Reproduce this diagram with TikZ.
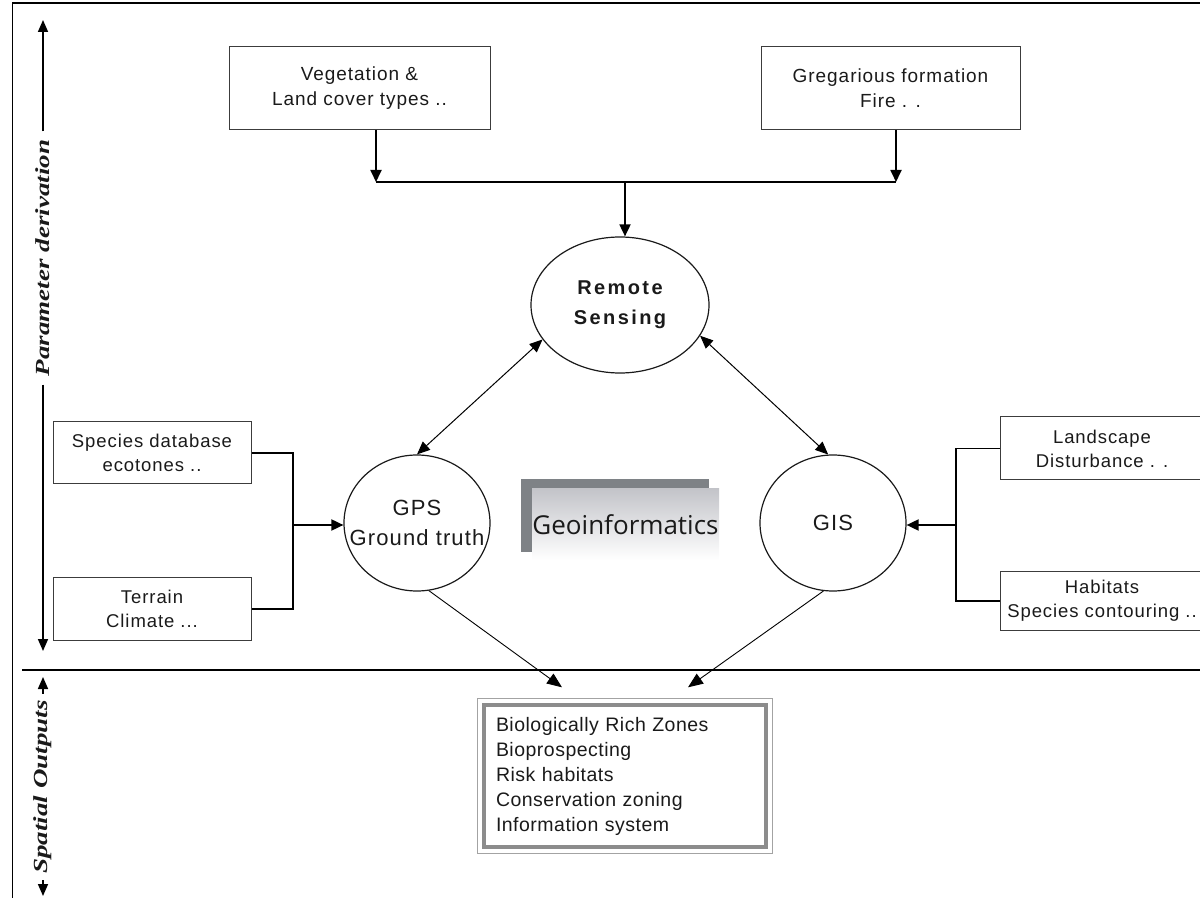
\documentclass[tikz,border=0pt]{standalone}
\usepackage{fontspec}
\setmainfont{Liberation Sans}[LetterSpace=5]
\newfontfamily\axisfont{Liberation Serif}[FakeStretch=1.35]
\newfontfamily\geofont{Open Sans}
\usetikzlibrary{arrows.meta,shapes.geometric,calc}
\definecolor{ink}{HTML}{1A1A1A}
\definecolor{framegray}{HTML}{8C8C8C}
\definecolor{shadegray}{HTML}{C3C4C9}
\definecolor{darkshade}{HTML}{7E8286}
\begin{document}
\begin{tikzpicture}[x=0.5pt,y=-0.5pt,
  box/.style={draw=ink!85,line width=0.5pt,align=center,text=ink,font=\fontsize{9.5}{12.5}\selectfont},
  blob/.style={ellipse,draw=ink,line width=0.6pt,align=center,inner sep=0pt,text=ink},
  link/.style={line width=0.9pt,-{Triangle[length=6pt,width=5.5pt]}},
  both/.style={line width=0.5pt,{Triangle[length=6.5pt,width=5.5pt]}-{Triangle[length=6.5pt,width=5.5pt]}},
  feed/.style={line width=0.45pt,-{Triangle[length=7.5pt,width=6pt]}},
  axis/.style={line width=0.8pt,-{Triangle[length=6pt,width=5pt]}},
  axlabel/.style={rotate=90,inner sep=4pt,text=ink,font=\axisfont\fontsize{10}{12}\selectfont\bfseries\itshape}]
\useasboundingbox (0,0) rectangle (1200,898);
\draw[line width=0.7pt] (12.5,898) -- (12.5,3) -- (1200,3);
\draw[line width=1pt] (22,670) -- (1200,670);

% left axis
\node[axlabel] (pd) at (43,258) {Parameter derivation};
\coordinate (pdtop) at (43,20);
\coordinate (pdbot) at (43,651);
\draw[axis] (pd.east) -- (pdtop);
\draw[axis] (pd.west) -- (pdbot);
\node[axlabel,inner sep=3pt] (so) at (43,787) {Spatial Outputs};
\coordinate (sotop) at (43,677);
\coordinate (sobot) at (43,896);
\draw[axis] (so.east) -- (sotop);
\draw[axis] (so.west) -- (sobot);

% inputs
\node[box,minimum width=130.5pt,minimum height=41.5pt] (veg) at (359.5,88.5) {Vegetation \&\\Land cover types ..};
\node[box,minimum width=129.5pt,minimum height=41.5pt] (greg) at (890.5,88.5) {Gregarious formation\\Fire . .};
\node[box,minimum width=99pt,minimum height=31pt,font=\fontsize{9.25}{12}\selectfont] (spec) at (152,453) {Species database\\ecotones ..};
\node[box,minimum width=99pt,minimum height=31pt,font=\fontsize{9.25}{12}\selectfont] (terr) at (152,609) {Terrain\\Climate ...};
\node[box,minimum width=102pt,minimum height=31.5pt,font=\fontsize{9.25}{12}\selectfont] (land) at (1102,448.5) {Landscape\\Disturbance . .};
\node[box,minimum width=102pt,minimum height=29pt,font=\fontsize{9.25}{12}\selectfont] (hab) at (1102,601) {Habitats\\Species contouring ..};

% core
\node[blob,minimum width=89pt,minimum height=68pt,font=\fontsize{10}{15}\selectfont\bfseries\addfontfeature{LetterSpace=12}] (rs) at (620,305) {Remote\\Sensing};
\node[blob,minimum width=73pt,minimum height=68pt] (gps) at (417,523) {};
\node[align=center,text=ink,font=\fontsize{11}{15}\selectfont] (gpstxt) at (gps) {GPS\\Ground truth};
\node[blob,minimum width=73pt,minimum height=68pt,font=\fontsize{11}{15}\selectfont] (gis) at (833,523) {GIS};
\fill[darkshade] (521,479) rectangle (709,552);
\node[minimum width=93.5pt,minimum height=35.5pt,inner sep=0pt,top color=shadegray,bottom color=white,text=ink,font=\geofont\fontsize{13}{15}\selectfont] (geo) at (625.5,524.5) {Geoinformatics};

% output
\node[draw=framegray,line width=1.6pt,text width=129pt,inner sep=6pt,minimum height=68pt,align=left,text=ink,font=\fontsize{9.75}{12.5}\selectfont\addfontfeature{LetterSpace=2.5}] (outbox) at (625,776) {Biologically Rich Zones\\Bioprospecting\\Risk habitats\\Conservation zoning\\Information system};
\draw[framegray!80,line width=0.6pt] ([shift={(-5,-5)}]outbox.north west) rectangle ([shift={(5,5)}]outbox.south east);

% connectors
\coordinate (jl) at (376,182);
\coordinate (jr) at (896,182);
\coordinate (jc) at (625,182);
\draw[link] (veg.south -| jl) -- (jl);
\draw[link] (greg.south -| jr) -- (jr);
\draw[line width=0.9pt] (jl) -- (jr);
\draw[link] (jc) -- (rs.north -| jc);
\draw[both] (rs.204) -- (gps.north);
\draw[both] (rs.-21) -- (gis.94);
\coordinate (bl) at (293,525);
\coordinate (br) at (956,525);
\draw[line width=0.9pt] (spec.east) -| (bl) |- (terr.east);
\draw[link] (bl) -- (gps.west |- bl);
\draw[line width=0.9pt] (land.west) -| (br) |- (hab.west);
\draw[link] (br) -- (gis.east |- br);
\draw[feed] (gps.-80) -- ($(outbox.north)+(-63,-16)$);
\draw[feed] (gis.-98) -- ($(outbox.north)+(63,-16)$);
\end{tikzpicture}
\end{document}
